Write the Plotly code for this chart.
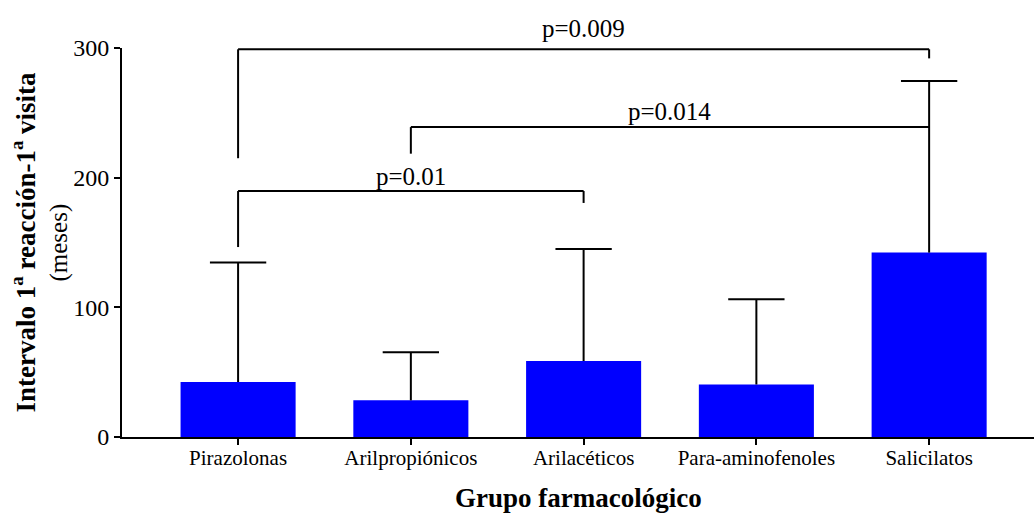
import plotly.graph_objects as go

categories = ["Pirazolonas", "Arilpropiónicos", "Arilacéticos", "Para-aminofenoles", "Salicilatos"]
means = [42.4, 28.3, 58.6, 40.5, 142.2]
sd_upper = [92.1, 37.1, 86.4, 65.7, 132.3]

# comparisons: (left index, right index, bracket level, left leg bottom, right leg bottom, label)
comp_left = [0, 1, 0]
comp_right = [4, 4, 2]
comp_level = [299, 239, 189.7]
comp_left_bottom = [215, 218.5, 146.5]
comp_right_bottom = [292, 239, 180.5]
comp_label = ["p=0.009", "p=0.014", "p=0.01"]
label_shift = [21, 16, 15]

FONT = "Liberation Serif"
x = list(range(len(categories)))
CAP = 0.163  # half cap width in category units

fig = go.Figure()
fig.add_trace(go.Bar(
    x=x, y=means, width=0.666,
    marker=dict(color="#0000FF", line=dict(width=0)),
    showlegend=False, hoverinfo="skip",
))

# upper-only error bars: stem from bar top plus cap
ex, ey = [], []
for i, (m, s) in enumerate(zip(means, sd_upper)):
    ex += [i, i, None, i - CAP, i + CAP, None]
    ey += [m, m + s, None, m + s, m + s, None]
fig.add_trace(go.Scatter(x=ex, y=ey, mode="lines", line=dict(color="black", width=2),
                         showlegend=False, hoverinfo="skip", cliponaxis=False))

shapes = []
annotations = []
for i in range(len(comp_label)):
    xl, xr = comp_left[i], comp_right[i]
    lv = comp_level[i]
    line = dict(color="black", width=2)
    shapes.append(dict(type="line", xref="x", yref="y", x0=xl, x1=xr, y0=lv, y1=lv, line=line))
    shapes.append(dict(type="line", xref="x", yref="y", x0=xl, x1=xl, y0=comp_left_bottom[i], y1=lv, line=line))
    if comp_right_bottom[i] < lv:
        shapes.append(dict(type="line", xref="x", yref="y", x0=xr, x1=xr, y0=comp_right_bottom[i], y1=lv, line=line))
    annotations.append(dict(x=(xl + xr) / 2, y=lv, xref="x", yref="y", text=comp_label[i],
                            showarrow=False, yanchor="middle", yshift=label_shift[i],
                            font=dict(family=FONT, size=25, color="black")))

annotations.append(dict(x=0, y=0.5, xref="paper", yref="paper",
                        text="Intervalo 1<sup>a</sup> reacción-1<sup>a</sup> visita",
                        textangle=-90, showarrow=False, xanchor="center", yanchor="middle",
                        xshift=-99, font=dict(family=FONT, size=27, color="black", weight="bold")))
annotations.append(dict(x=0, y=0.5, xref="paper", yref="paper", text="(meses)",
                        textangle=-90, showarrow=False, xanchor="center", yanchor="middle",
                        xshift=-64, font=dict(family=FONT, size=25, color="black")))
annotations.append(dict(x=0.5, y=0, xref="paper", yref="paper", text="Grupo farmacológico",
                        showarrow=False, xanchor="center", yanchor="middle",
                        yshift=-61, font=dict(family=FONT, size=27, color="black", weight="bold")))

fig.update_layout(
    width=1034, height=513,
    margin=dict(l=122, r=0, t=48, b=76),
    paper_bgcolor="white", plot_bgcolor="white",
    shapes=shapes, annotations=annotations,
    font=dict(family=FONT, color="black"),
    xaxis=dict(range=[-0.672, 4.607], tickvals=x, ticktext=categories,
               showline=True, linecolor="black", linewidth=2,
               ticks="outside", ticklen=6, tickwidth=2, tickcolor="black",
               ticklabelstandoff=-5,
               showgrid=False, zeroline=False,
               tickfont=dict(family=FONT, size=21, color="black")),
    yaxis=dict(range=[0, 300], tickvals=[0, 100, 200, 300],
               showline=True, linecolor="black", linewidth=2,
               ticks="outside", ticklen=6, tickwidth=2, tickcolor="black",
               showgrid=False, zeroline=False,
               tickfont=dict(family=FONT, size=24, color="black")),
)

fig.write_html("out.html")
